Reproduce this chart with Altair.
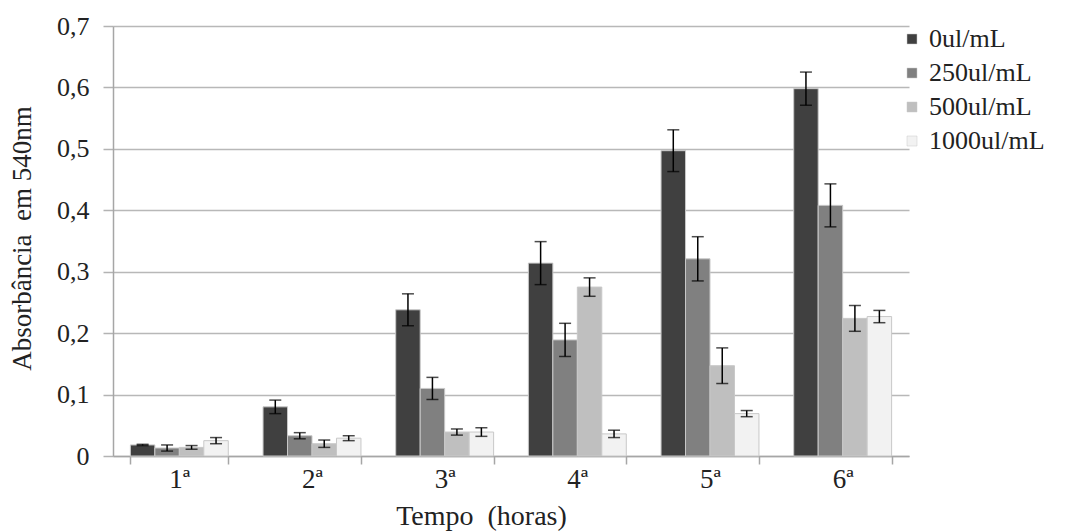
import altair as alt
import pandas as pd

categories = ["1ª", "2ª", "3ª", "4ª", "5ª", "6ª"]
series = ["0ul/mL", "250ul/mL", "500ul/mL", "1000ul/mL"]
colors = ["#404040", "#808080", "#bfbfbf", "#f2f2f2"]

values = {
    "0ul/mL":    [0.018, 0.080, 0.238, 0.314, 0.497, 0.598],
    "250ul/mL":  [0.013, 0.033, 0.110, 0.189, 0.321, 0.408],
    "500ul/mL":  [0.014, 0.020, 0.039, 0.275, 0.147, 0.224],
    "1000ul/mL": [0.025, 0.029, 0.039, 0.036, 0.069, 0.227],
}
errors = {
    "0ul/mL":    [0.001, 0.011, 0.026, 0.035, 0.034, 0.027],
    "250ul/mL":  [0.005, 0.005, 0.018, 0.027, 0.036, 0.035],
    "500ul/mL":  [0.003, 0.006, 0.005, 0.015, 0.029, 0.021],
    "1000ul/mL": [0.005, 0.004, 0.007, 0.006, 0.005, 0.010],
}

rows = []
for s in series:
    for c, v, e in zip(categories, values[s], errors[s]):
        rows.append({"tempo": c, "serie": s, "valor": v, "lo": v - e, "hi": v + e})
df = pd.DataFrame(rows)

FONT = "Liberation Serif"

x_enc = alt.X(
    "tempo:N", sort=categories,
    scale=alt.Scale(paddingInner=0.262, paddingOuter=0.131),
    axis=alt.Axis(
        title="Tempo\u00a0\u00a0(horas)", labelAngle=0, labelFontSize=27, labelFont=FONT,
        labelColor="#222222", labelPadding=2, tickBand="extent", tickSize=8,
        tickColor="#a6a6a6", tickWidth=1.5, domainColor="#a6a6a6", domainWidth=1.5,
        titleFont=FONT, titleFontSize=28, titleFontWeight="normal", titleColor="#222222",
        titleX=368, titleY=60, titleBaseline="middle", titleAnchor="start", titleAlign="center",
    ),
)
xoff = alt.XOffset("serie:N", sort=series, scale=alt.Scale(paddingInner=0, paddingOuter=0))

y_scale = alt.Scale(domain=[0, 0.7], nice=False)

bars = alt.Chart(df).mark_bar(stroke="#c8c8c8", strokeWidth=1).encode(
    x=x_enc,
    xOffset=xoff,
    y=alt.Y(
        "valor:Q", scale=y_scale,
        axis=alt.Axis(
            title="Absorbância\u00a0\u00a0em 540nm", values=[0, 0.1, 0.2, 0.3, 0.4, 0.5, 0.6, 0.7],
            labelExpr="datum.value == 0 ? '0' : replace(format(datum.value, '.1f'), '.', ',')",
            labelFont=FONT, labelFontSize=26, labelColor="#222222", labelPadding=14,
            tickSize=10, tickColor="#b3b3b3", tickWidth=1.5,
            domainColor="#a6a6a6", domainWidth=1.5,
            grid=True, gridColor="#b8b8b8", gridWidth=1.5,
            titleFont=FONT, titleFontSize=27, titleFontWeight="normal", titleColor="#222222",
            titleAngle=270, titleX=-91, titleY=212, titleAlign="center", titleBaseline="middle",
            titleAnchor="start",
        ),
    ),
    color=alt.Color(
        "serie:N", sort=series, scale=alt.Scale(domain=series, range=colors),
        legend=alt.Legend(
            title=None, orient="none", legendX=786, legendY=0,
            symbolType="square", symbolSize=100, symbolStrokeColor="#c8c8c8", symbolStrokeWidth=0.5,
            labelFont=FONT, labelFontSize=26, labelColor="#222222", labelOffset=4,
            rowPadding=8,
        ),
    ),
)

rules = alt.Chart(df).mark_rule(color="black", strokeWidth=1.5).encode(
    x=alt.X("tempo:N", sort=categories),
    xOffset=xoff,
    y=alt.Y("lo:Q", scale=y_scale),
    y2="hi:Q",
)
caps_lo = alt.Chart(df).mark_tick(color="black", thickness=1.5, size=12, orient="horizontal").encode(
    x=alt.X("tempo:N", sort=categories),
    xOffset=xoff,
    y=alt.Y("lo:Q", scale=y_scale),
)
caps_hi = alt.Chart(df).mark_tick(color="black", thickness=1.5, size=12, orient="horizontal").encode(
    x=alt.X("tempo:N", sort=categories),
    xOffset=xoff,
    y=alt.Y("hi:Q", scale=y_scale),
)

chart = alt.layer(bars, rules, caps_lo, caps_hi).properties(
    width=796, height=430,
    autosize=alt.AutoSizeParams(type="none"),
    padding={"left": 113, "top": 26, "right": 157, "bottom": 76},
    background="white",
).configure_view(stroke=None)

chart.save("out.html", embed_options={"renderer": "svg", "actions": False})
